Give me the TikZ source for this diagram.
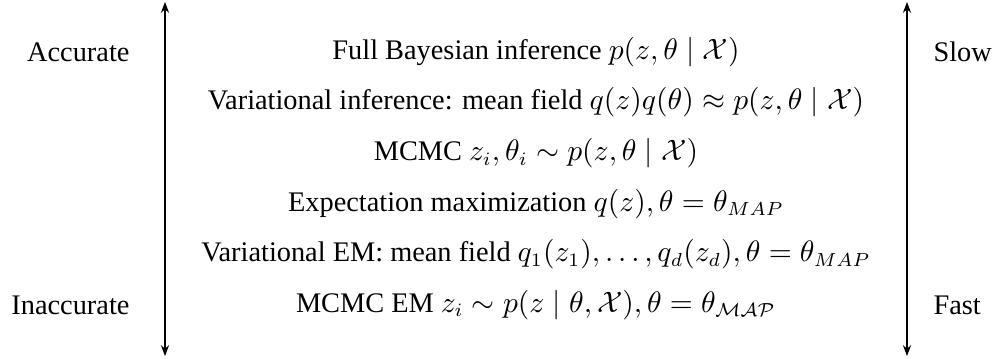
\documentclass[tikz,border=0pt]{standalone}
\usepackage{amsmath}
\usepackage{fontspec}
\setmainfont{Liberation Serif}
\usetikzlibrary{arrows.meta}
\begin{document}
\begin{tikzpicture}[x=0.37037pt,y=-0.37037pt,
  row/.style={anchor=center,inner sep=0pt,font=\fontsize{10.5}{12.5}\selectfont},
  lefttag/.style={anchor=east,inner sep=0pt,font=\fontsize{10.5}{12.5}\selectfont},
  righttag/.style={anchor=west,inner sep=0pt,font=\fontsize{10.5}{12.5}\selectfont},
  axis/.style={line width=0.4pt,{Stealth[length=4pt,width=3pt]}-{Stealth[length=4pt,width=3pt]}}]
\useasboundingbox (0,0) rectangle (1003,358);

% methods, ordered from most to least accurate
\node[row] (full) at (536,52) {Full Bayesian inference $p(z,\theta \mid \mathcal{X})$};
\node[row] (vi) at (536,102.6) {Variational inference: mean field $q(z)q(\theta) \approx p(z,\theta \mid \mathcal{X})$};
\node[row] (mcmc) at (536,153.2) {MCMC $z_i,\theta_i \sim p(z,\theta \mid \mathcal{X})$};
\node[row] (em) at (536,203.8) {Expectation maximization $q(z),\theta = \theta_{MAP}$};
\node[row] (vem) at (536,254.4) {Variational EM: mean field $q_1(z_1),\ldots,q_d(z_d),\theta = \theta_{MAP}$};
\node[row] (mcem) at (536,305) {MCMC EM $z_i \sim p(z \mid \theta,\mathcal{X}),\theta = \theta_{\mathcal{MAP}}$};

% side labels
\node[lefttag] (acc) at (130,52) {Accurate};
\node[lefttag] (inacc) at (130,305) {Inaccurate};
\node[righttag] (slow) at (933,52) {Slow};
\node[righttag] (fast) at (933,305) {Fast};

% double-headed axes
\coordinate (lt) at (165,2);
\coordinate (lb) at (165,356);
\coordinate (rt) at (907,2);
\coordinate (rb) at (907,356);
\draw[axis] (lt) -- (lb);
\draw[axis] (rt) -- (rb);
\end{tikzpicture}
\end{document}
